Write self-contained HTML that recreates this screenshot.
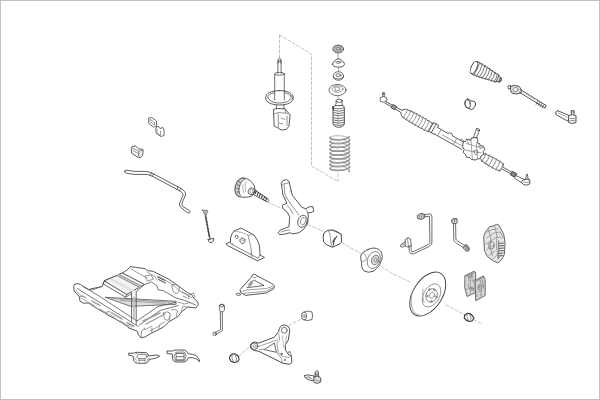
<!DOCTYPE html>
<html><head><meta charset="utf-8"><style>
html,body{margin:0;padding:0;background:#fff;}
body{width:600px;height:400px;overflow:hidden;font-family:"Liberation Sans",sans-serif;}
svg{display:block;}
</style></head><body>
<svg width="600" height="400" viewBox="0 0 600 400">
<rect x="0.5" y="0.5" width="599" height="399" fill="#fff" stroke="#c2c2c2" stroke-width="1"/>
<g fill="none" stroke="#4a4a4a" stroke-width="0.8" stroke-linejoin="round" stroke-linecap="round">

<!-- dashed guide lines -->
<g stroke="#9a9a9a" stroke-width="0.6" stroke-dasharray="3,2">
<path d="M279.5,35 L311.5,54 L311.5,166 L338,181.5 L338,173.5"/>
<path d="M279.5,35 L279.5,57.5"/>
<path d="M268,202.5 L282,208.5"/>
<path d="M308.3,224.7 L323,231.3"/>
<path d="M342,243 L361,253.5"/>
<path d="M381,266.5 L395,275 L410,282"/>
<path d="M446,305 L464.5,314.5"/>
<path d="M474,319.8 L482,324"/>
<path d="M289,325.5 L301.7,318.7"/>
<path d="M239,356 L249,347"/>
</g>

<!-- STRUT -->
<path d="M278,63 L278,59.5 Q279.5,56.8 281,59.5 L281,63" stroke="#444" stroke-width="0.9"/>
<path d="M278,60.5 L281,60.5 M278,62 L281,62" stroke="#666"/>
<path d="M277.9,62 L277.9,73 M281.1,62 L281.1,73"/>
<ellipse cx="279.5" cy="73.8" rx="4.8" ry="1.4"/>
<path d="M274.7,74 L274.7,92 M284.3,74 L284.3,92"/>
<path d="M279.5,90.6 C271,90.6 265.75,93.5 265.75,97.8 C265.75,102 271,105 279.5,105 C288,105 293.25,102 293.25,97.8 C293.25,93.5 288,90.6 279.5,90.6 Z" stroke="#444" stroke-width="0.9"/>
<path d="M268,97 C268,94.5 272,93 274.7,92.8 M284.3,92.8 C288,93.2 291,95 291.2,97.2 C291,100.5 286,103 279.5,103 C273,103 268.5,100.5 268,97.5"/>
<path d="M274.7,92.8 L274.7,100 M284.3,92.8 L284.3,100" />
<path d="M290,95 L293,97 L292,100" stroke="#777"/>
<path d="M276.4,105 L276.4,109 M283.9,105 L283.9,109"/>
<path d="M273.9,109.4 L276.4,108.5 L285.1,108.75 L290.1,115 L288.9,126.25 L286.4,129.4 L281.4,130 L278.25,128.1 L274.5,126.25 Z" stroke="#444" stroke-width="0.9"/>
<path d="M274,113.75 L279,112.5 L288,113.5 M278.25,114 L278.25,127 M287,116 L287,125.5 M281,118 L285,119.5 M279,123 L283,124" stroke="#777"/>
<path d="M285.1,108.75 L285.5,113" stroke="#777"/>
<!-- SPRING STACK -->
<ellipse cx="338.2" cy="49" rx="5.4" ry="3.9" fill="#c4c4c4"/>
<path d="M334,47 L336,48 M335.5,45.6 L337,47.3 M338.2,45.1 L338.2,47 M341,45.6 L339.5,47.3 M342.5,47 L340.5,48 M342.8,50 L340.5,49.8 M341,52 L339.5,50.7 M338.2,52.8 L338.2,51 M335.3,52 L336.8,50.7 M333.6,50 L336,49.8" stroke="#777" stroke-width="0.6"/>
<ellipse cx="338.2" cy="48.8" rx="2" ry="1.2" fill="#e8e8e8" stroke="#666"/>
<path d="M338,52.8 L338,58.5" stroke="#888"/>
<path d="M332.4,64.3 Q333,61.5 334.6,61 Q336,59 338.4,58.8 Q341,59 342.3,61 Q344,61.5 344.5,64.3 Q344,67 338.4,67.2 Q332.8,67 332.4,64.3 Z" stroke="#444" stroke-width="0.9"/>
<ellipse cx="338.4" cy="62.3" rx="2.3" ry="1" stroke="#555"/>
<path d="M334.8,61.2 Q338.4,63.8 342,61.2" stroke="#aaa"/>
<path d="M338.5,67.5 L338.5,71.8" stroke="#999"/>
<ellipse cx="338.4" cy="76" rx="5.2" ry="4.3"/>
<ellipse cx="338.4" cy="75.2" rx="2.6" ry="1.4"/>
<path d="M333.3,77 Q338.4,81.5 343.5,77"/>
<ellipse cx="337.5" cy="90" rx="8.5" ry="5.6"/>
<ellipse cx="337.5" cy="89" rx="5.5" ry="3.3" stroke="#888"/>
<path d="M335,87 L339,87 L340,90 L336,91 Z" stroke="#777"/>
<path d="M338,95.6 L338,98" stroke="#888"/>
<!-- bump stop -->
<path d="M336.1,100.8 L336.1,104 Q335,104.5 335.2,105.6 M342.1,100.8 L342.1,104 Q343,104.5 342.6,105.6"/>
<ellipse cx="339.1" cy="100.8" rx="3" ry="1.6"/>
<path d="M335.2,105.6 Q333,105.8 333,108 L333,123 Q333.5,127 338.7,127.3 Q344,127 344.4,123 L344.4,108 Q344.4,105.8 342.6,105.6 Z" stroke="#444" stroke-width="0.9"/>
<path stroke-width="0.9" d="M333.2,108 Q338.7,110 344.2,108 M333.2,110.3 Q338.7,112.3 344.2,110.3 M333.2,112.6 Q338.7,114.6 344.2,112.6 M333.2,114.9 Q338.7,116.9 344.2,114.9 M333.2,117.7 Q338.7,119.7 344.2,117.7 M333.2,120 Q338.7,122 344.2,120 M333.2,122.3 Q338.7,124.3 344.2,122.3 M333.5,124.6 Q338.7,126.3 344,124.6" stroke="#666"/>
<path d="M338,113 L338,124 M343.5,106.5 L345,109" stroke="#888"/>
<path d="M332.6,106.8 L333.5,109.5" stroke="#333" stroke-width="1.2"/>
<!-- spring -->
<path d="M330.13,137.54 L330.23,137.36 L330.38,137.18 L330.60,137.00 L330.88,136.83 L331.22,136.67 L331.61,136.52 L332.06,136.37 L332.55,136.24 L333.10,136.12 L333.68,136.02 L334.31,135.93 L334.98,135.85 L335.67,135.79 L336.39,135.75 L337.14,135.73 L337.90,135.72 L338.67,135.73 L339.45,135.76 L340.24,135.81 L341.02,135.88 L341.79,135.97 L342.55,136.08 L343.29,136.20 L344.01,136.34 L344.70,136.50 L345.36,136.68 L345.98,136.87 L346.57,137.08 L347.10,137.30 L347.60,137.53 L348.04,137.77 L348.42,138.02 L348.75,138.28 L349.03,138.55 L349.24,138.83 L349.39,139.11 L349.48,139.39 L349.50,139.67 M330.10,141.52 L330.15,141.33 L330.26,141.15 L330.43,140.97 L330.66,140.80 L330.95,140.63 L331.30,140.47 L331.70,140.32 L332.16,140.18 L332.67,140.05 L333.22,139.93 L333.82,139.83 L334.46,139.74 L335.13,139.67 L335.83,139.61 L336.56,139.58 L337.30,139.56 L338.07,139.55 L338.84,139.57 L339.63,139.61 L340.41,139.66 L341.19,139.73 L341.96,139.83 L342.71,139.94 L343.45,140.07 L344.16,140.21 L344.85,140.37 L345.50,140.55 L346.12,140.75 L346.69,140.96 L347.22,141.18 L347.70,141.41 L348.13,141.66 L348.50,141.91 L348.82,142.18 L349.08,142.45 L349.28,142.72 L349.41,143.00 L349.49,143.29 L349.50,143.57 M330.11,145.31 L330.17,145.13 L330.29,144.94 L330.47,144.76 L330.72,144.59 L331.02,144.43 L331.39,144.27 L331.80,144.12 L332.27,143.98 L332.79,143.85 L333.35,143.74 L333.96,143.64 L334.60,143.56 L335.28,143.49 L335.99,143.44 L336.72,143.40 L337.47,143.39 L338.24,143.39 L339.02,143.41 L339.80,143.45 L340.58,143.51 L341.36,143.59 L342.13,143.68 L342.88,143.80 L343.61,143.93 L344.32,144.08 L345.00,144.25 L345.64,144.43 L346.25,144.63 L346.81,144.84 L347.33,145.06 L347.80,145.30 L348.21,145.55 L348.58,145.81 L348.88,146.07 L349.13,146.34 L349.31,146.62 L349.43,146.90 L349.49,147.18 L349.49,147.47 M330.11,149.10 L330.19,148.92 L330.32,148.74 L330.52,148.56 L330.78,148.39 L331.10,148.22 L331.47,148.07 L331.90,147.92 L332.38,147.78 L332.91,147.66 L333.48,147.55 L334.10,147.45 L334.75,147.37 L335.44,147.31 L336.15,147.26 L336.89,147.23 L337.64,147.22 L338.41,147.23 L339.19,147.25 L339.97,147.29 L340.76,147.36 L341.53,147.44 L342.30,147.54 L343.04,147.66 L343.77,147.79 L344.47,147.95 L345.14,148.12 L345.78,148.31 L346.38,148.51 L346.93,148.72 L347.44,148.95 L347.90,149.19 L348.30,149.44 L348.65,149.70 L348.94,149.96 L349.17,150.24 L349.34,150.51 L349.45,150.80 L349.50,151.08 L349.48,151.36 M330.12,152.89 L330.21,152.71 L330.36,152.53 L330.57,152.35 L330.85,152.18 L331.18,152.02 L331.56,151.87 L332.00,151.72 L332.50,151.59 L333.03,151.47 L333.62,151.36 L334.24,151.27 L334.90,151.19 L335.59,151.13 L336.31,151.09 L337.05,151.06 L337.81,151.05 L338.58,151.06 L339.36,151.09 L340.15,151.14 L340.93,151.21 L341.70,151.29 L342.46,151.40 L343.21,151.52 L343.93,151.66 L344.62,151.82 L345.29,151.99 L345.92,152.18 L346.50,152.39 L347.05,152.60 L347.54,152.83 L347.99,153.08 L348.38,153.33 L348.72,153.59 L349.00,153.86 L349.22,154.13 L349.37,154.41 L349.47,154.69 L349.50,154.97 L349.47,155.26 M330.10,156.87 L330.14,156.69 L330.24,156.50 L330.40,156.32 L330.63,156.15 L330.92,155.98 L331.26,155.82 L331.66,155.67 L332.11,155.52 L332.61,155.39 L333.16,155.28 L333.75,155.17 L334.38,155.08 L335.05,155.01 L335.75,154.95 L336.47,154.91 L337.22,154.89 L337.98,154.89 L338.76,154.90 L339.54,154.93 L340.32,154.99 L341.10,155.06 L341.87,155.15 L342.63,155.26 L343.37,155.38 L344.09,155.53 L344.78,155.69 L345.43,155.87 L346.05,156.06 L346.63,156.27 L347.16,156.49 L347.65,156.72 L348.08,156.96 L348.46,157.22 L348.79,157.48 L349.05,157.75 L349.26,158.03 L349.40,158.31 L349.48,158.59 L349.50,158.87 M330.10,160.66 L330.16,160.48 L330.27,160.30 L330.45,160.12 L330.69,159.94 L330.99,159.78 L331.34,159.62 L331.75,159.47 L332.22,159.33 L332.73,159.20 L333.29,159.08 L333.89,158.98 L334.53,158.90 L335.20,158.83 L335.91,158.78 L336.64,158.74 L337.39,158.72 L338.15,158.72 L338.93,158.74 L339.71,158.78 L340.50,158.83 L341.27,158.91 L342.04,159.00 L342.80,159.12 L343.53,159.25 L344.24,159.40 L344.92,159.56 L345.57,159.74 L346.18,159.94 L346.75,160.15 L347.27,160.37 L347.75,160.61 L348.17,160.85 L348.54,161.11 L348.85,161.37 L349.10,161.64 L349.29,161.92 L349.42,162.20 L349.49,162.48 L349.49,162.77 M330.11,164.46 L330.18,164.27 L330.31,164.09 L330.50,163.91 L330.75,163.74 L331.06,163.57 L331.43,163.42 L331.85,163.27 L332.33,163.13 L332.85,163.01 L333.42,162.89 L334.03,162.80 L334.68,162.71 L335.36,162.65 L336.07,162.60 L336.80,162.57 L337.56,162.55 L338.33,162.56 L339.10,162.58 L339.89,162.62 L340.67,162.68 L341.45,162.76 L342.21,162.86 L342.96,162.98 L343.69,163.11 L344.40,163.26 L345.07,163.43 L345.71,163.62 L346.31,163.82 L346.87,164.03 L347.38,164.26 L347.85,164.49 L348.26,164.74 L348.61,165.00 L348.91,165.27 L349.15,165.54 L349.33,165.82 L349.44,166.10 L349.50,166.38 L349.49,166.66 M330.12,168.25 L330.20,168.06 L330.34,167.88 L330.55,167.71 L330.81,167.54 L331.14,167.37 L331.52,167.22 L331.95,167.07 L332.44,166.94 L332.97,166.81 L333.55,166.71 L334.17,166.61 L334.82,166.53 L335.51,166.47 L336.23,166.42 L336.97,166.40 L337.73,166.39 L338.50,166.39 L339.28,166.42 L340.06,166.47 L340.84,166.53 L341.62,166.62 L342.38,166.72 L343.13,166.84 L343.85,166.98 L344.55,167.13 L345.22,167.31 L345.85,167.49 L346.44,167.70 L346.99,167.91 L347.49,168.14 L347.94,168.38 L348.34,168.63 L348.68,168.89 L348.97,169.16 L349.20,169.43 L349.36,169.71 L349.46,169.99 L349.50,170.28 L349.48,170.56" stroke="#999" stroke-width="0.8"/>
<path d="M349.03,136.90 L348.75,137.17 L348.42,137.43 L348.04,137.68 L347.60,137.92 L347.10,138.15 L346.57,138.37 L345.98,138.58 L345.36,138.77 L344.70,138.95 L344.01,139.11 L343.29,139.25 L342.55,139.37 L341.79,139.48 L341.02,139.57 L340.24,139.64 L339.45,139.69 L338.67,139.72 L337.90,139.73 L337.14,139.72 L336.39,139.70 L335.67,139.66 L334.98,139.60 L334.31,139.52 L333.68,139.43 L333.10,139.33 L332.55,139.21 L332.06,139.08 L331.61,138.93 L331.22,138.78 L330.88,138.62 L330.60,138.45 L330.38,138.27 L330.23,138.09 L330.13,137.91 L330.10,137.72 L330.13,137.54 M349.50,139.67 L349.46,139.96 L349.36,140.24 L349.20,140.52 L348.97,140.79 L348.68,141.06 L348.34,141.32 L347.94,141.57 L347.49,141.81 L346.99,142.04 L346.44,142.25 L345.85,142.46 L345.22,142.64 L344.55,142.82 L343.85,142.97 L343.13,143.11 L342.38,143.23 L341.62,143.33 L340.84,143.42 L340.06,143.48 L339.28,143.53 L338.50,143.56 L337.73,143.56 L336.97,143.55 L336.23,143.53 L335.51,143.48 L334.82,143.42 L334.17,143.34 L333.55,143.24 L332.97,143.14 L332.44,143.01 L331.95,142.88 L331.52,142.73 L331.14,142.58 L330.81,142.41 L330.55,142.24 L330.34,142.07 L330.20,141.89 L330.12,141.70 L330.10,141.52 M349.50,143.57 L349.44,143.85 L349.33,144.13 L349.15,144.41 L348.91,144.68 L348.61,144.95 L348.26,145.21 L347.85,145.46 L347.38,145.69 L346.87,145.92 L346.31,146.13 L345.71,146.33 L345.07,146.52 L344.40,146.69 L343.69,146.84 L342.96,146.97 L342.21,147.09 L341.45,147.19 L340.67,147.27 L339.89,147.33 L339.10,147.37 L338.33,147.39 L337.56,147.40 L336.80,147.38 L336.07,147.35 L335.36,147.30 L334.68,147.24 L334.03,147.15 L333.42,147.06 L332.85,146.94 L332.33,146.82 L331.85,146.68 L331.43,146.53 L331.06,146.38 L330.75,146.21 L330.50,146.04 L330.31,145.86 L330.18,145.68 L330.11,145.49 L330.11,145.31 M349.49,147.47 L349.42,147.75 L349.29,148.03 L349.10,148.31 L348.85,148.58 L348.54,148.84 L348.17,149.10 L347.75,149.34 L347.27,149.58 L346.75,149.80 L346.18,150.01 L345.57,150.21 L344.92,150.39 L344.24,150.55 L343.53,150.70 L342.80,150.83 L342.04,150.95 L341.27,151.04 L340.50,151.12 L339.71,151.17 L338.93,151.21 L338.15,151.23 L337.39,151.23 L336.64,151.21 L335.91,151.17 L335.20,151.12 L334.53,151.05 L333.89,150.97 L333.29,150.87 L332.73,150.75 L332.22,150.62 L331.75,150.48 L331.34,150.33 L330.99,150.17 L330.69,150.01 L330.45,149.83 L330.27,149.65 L330.16,149.47 L330.10,149.29 L330.11,149.10 M349.48,151.36 L349.40,151.64 L349.26,151.92 L349.05,152.20 L348.79,152.47 L348.46,152.73 L348.08,152.99 L347.65,153.23 L347.16,153.46 L346.63,153.68 L346.05,153.89 L345.43,154.08 L344.78,154.26 L344.09,154.42 L343.37,154.57 L342.63,154.69 L341.87,154.80 L341.10,154.89 L340.32,154.96 L339.54,155.02 L338.76,155.05 L337.98,155.06 L337.22,155.06 L336.47,155.04 L335.75,155.00 L335.05,154.94 L334.38,154.87 L333.75,154.78 L333.16,154.67 L332.61,154.56 L332.11,154.43 L331.66,154.28 L331.26,154.13 L330.92,153.97 L330.63,153.80 L330.40,153.63 L330.24,153.45 L330.14,153.26 L330.10,153.08 L330.12,152.89 M349.47,155.26 L349.37,155.54 L349.22,155.82 L349.00,156.09 L348.72,156.36 L348.38,156.62 L347.99,156.87 L347.54,157.12 L347.05,157.35 L346.50,157.56 L345.92,157.77 L345.29,157.96 L344.62,158.13 L343.93,158.29 L343.21,158.43 L342.46,158.55 L341.70,158.66 L340.93,158.74 L340.15,158.81 L339.36,158.86 L338.58,158.89 L337.81,158.90 L337.05,158.89 L336.31,158.86 L335.59,158.82 L334.90,158.76 L334.24,158.68 L333.62,158.59 L333.03,158.48 L332.50,158.36 L332.00,158.23 L331.56,158.08 L331.18,157.93 L330.85,157.77 L330.57,157.60 L330.36,157.42 L330.21,157.24 L330.12,157.06 L330.10,156.87 M349.50,158.87 L349.45,159.15 L349.34,159.44 L349.17,159.71 L348.94,159.99 L348.65,160.25 L348.30,160.51 L347.90,160.76 L347.44,161.00 L346.93,161.23 L346.38,161.44 L345.78,161.64 L345.14,161.83 L344.47,162.00 L343.77,162.16 L343.04,162.29 L342.30,162.41 L341.53,162.51 L340.76,162.59 L339.97,162.66 L339.19,162.70 L338.41,162.72 L337.64,162.73 L336.89,162.72 L336.15,162.69 L335.44,162.64 L334.75,162.58 L334.10,162.50 L333.48,162.40 L332.91,162.29 L332.38,162.17 L331.90,162.03 L331.47,161.88 L331.10,161.73 L330.78,161.56 L330.52,161.39 L330.32,161.21 L330.19,161.03 L330.11,160.85 L330.10,160.66 M349.49,162.77 L349.43,163.05 L349.31,163.33 L349.13,163.61 L348.88,163.88 L348.58,164.14 L348.21,164.40 L347.80,164.65 L347.33,164.89 L346.81,165.11 L346.25,165.32 L345.64,165.52 L345.00,165.70 L344.32,165.87 L343.61,166.02 L342.88,166.15 L342.13,166.27 L341.36,166.36 L340.58,166.44 L339.80,166.50 L339.02,166.54 L338.24,166.56 L337.47,166.56 L336.72,166.55 L335.99,166.51 L335.28,166.46 L334.60,166.39 L333.96,166.31 L333.35,166.21 L332.79,166.10 L332.27,165.97 L331.80,165.83 L331.39,165.68 L331.02,165.52 L330.72,165.36 L330.47,165.19 L330.29,165.01 L330.17,164.82 L330.11,164.64 L330.11,164.46 M349.49,166.66 L349.41,166.95 L349.28,167.23 L349.08,167.50 L348.82,167.77 L348.50,168.04 L348.13,168.29 L347.70,168.54 L347.22,168.77 L346.69,168.99 L346.12,169.20 L345.50,169.40 L344.85,169.58 L344.16,169.74 L343.45,169.88 L342.71,170.01 L341.96,170.12 L341.19,170.22 L340.41,170.29 L339.63,170.34 L338.84,170.38 L338.07,170.40 L337.30,170.39 L336.56,170.37 L335.83,170.34 L335.13,170.28 L334.46,170.21 L333.82,170.12 L333.22,170.02 L332.67,169.90 L332.16,169.77 L331.70,169.63 L331.30,169.48 L330.95,169.32 L330.66,169.15 L330.43,168.98 L330.26,168.80 L330.15,168.62 L330.10,168.43 L330.12,168.25 M349.48,170.56 L349.39,170.84 L349.24,171.12 L349.03,171.40" stroke="#555" stroke-width="1.5"/>
<path d="M349.03,136.90 L348.75,137.17 L348.42,137.43 L348.04,137.68 L347.60,137.92 L347.10,138.15 L346.57,138.37 L345.98,138.58 L345.36,138.77 L344.70,138.95 L344.01,139.11 L343.29,139.25 L342.55,139.37 L341.79,139.48 L341.02,139.57 L340.24,139.64 L339.45,139.69 L338.67,139.72 L337.90,139.73 L337.14,139.72 L336.39,139.70 L335.67,139.66 L334.98,139.60 L334.31,139.52 L333.68,139.43 L333.10,139.33 L332.55,139.21 L332.06,139.08 L331.61,138.93 L331.22,138.78 L330.88,138.62 L330.60,138.45 L330.38,138.27 L330.23,138.09 L330.13,137.91 L330.10,137.72 L330.13,137.54 M349.50,139.67 L349.46,139.96 L349.36,140.24 L349.20,140.52 L348.97,140.79 L348.68,141.06 L348.34,141.32 L347.94,141.57 L347.49,141.81 L346.99,142.04 L346.44,142.25 L345.85,142.46 L345.22,142.64 L344.55,142.82 L343.85,142.97 L343.13,143.11 L342.38,143.23 L341.62,143.33 L340.84,143.42 L340.06,143.48 L339.28,143.53 L338.50,143.56 L337.73,143.56 L336.97,143.55 L336.23,143.53 L335.51,143.48 L334.82,143.42 L334.17,143.34 L333.55,143.24 L332.97,143.14 L332.44,143.01 L331.95,142.88 L331.52,142.73 L331.14,142.58 L330.81,142.41 L330.55,142.24 L330.34,142.07 L330.20,141.89 L330.12,141.70 L330.10,141.52 M349.50,143.57 L349.44,143.85 L349.33,144.13 L349.15,144.41 L348.91,144.68 L348.61,144.95 L348.26,145.21 L347.85,145.46 L347.38,145.69 L346.87,145.92 L346.31,146.13 L345.71,146.33 L345.07,146.52 L344.40,146.69 L343.69,146.84 L342.96,146.97 L342.21,147.09 L341.45,147.19 L340.67,147.27 L339.89,147.33 L339.10,147.37 L338.33,147.39 L337.56,147.40 L336.80,147.38 L336.07,147.35 L335.36,147.30 L334.68,147.24 L334.03,147.15 L333.42,147.06 L332.85,146.94 L332.33,146.82 L331.85,146.68 L331.43,146.53 L331.06,146.38 L330.75,146.21 L330.50,146.04 L330.31,145.86 L330.18,145.68 L330.11,145.49 L330.11,145.31 M349.49,147.47 L349.42,147.75 L349.29,148.03 L349.10,148.31 L348.85,148.58 L348.54,148.84 L348.17,149.10 L347.75,149.34 L347.27,149.58 L346.75,149.80 L346.18,150.01 L345.57,150.21 L344.92,150.39 L344.24,150.55 L343.53,150.70 L342.80,150.83 L342.04,150.95 L341.27,151.04 L340.50,151.12 L339.71,151.17 L338.93,151.21 L338.15,151.23 L337.39,151.23 L336.64,151.21 L335.91,151.17 L335.20,151.12 L334.53,151.05 L333.89,150.97 L333.29,150.87 L332.73,150.75 L332.22,150.62 L331.75,150.48 L331.34,150.33 L330.99,150.17 L330.69,150.01 L330.45,149.83 L330.27,149.65 L330.16,149.47 L330.10,149.29 L330.11,149.10 M349.48,151.36 L349.40,151.64 L349.26,151.92 L349.05,152.20 L348.79,152.47 L348.46,152.73 L348.08,152.99 L347.65,153.23 L347.16,153.46 L346.63,153.68 L346.05,153.89 L345.43,154.08 L344.78,154.26 L344.09,154.42 L343.37,154.57 L342.63,154.69 L341.87,154.80 L341.10,154.89 L340.32,154.96 L339.54,155.02 L338.76,155.05 L337.98,155.06 L337.22,155.06 L336.47,155.04 L335.75,155.00 L335.05,154.94 L334.38,154.87 L333.75,154.78 L333.16,154.67 L332.61,154.56 L332.11,154.43 L331.66,154.28 L331.26,154.13 L330.92,153.97 L330.63,153.80 L330.40,153.63 L330.24,153.45 L330.14,153.26 L330.10,153.08 L330.12,152.89 M349.47,155.26 L349.37,155.54 L349.22,155.82 L349.00,156.09 L348.72,156.36 L348.38,156.62 L347.99,156.87 L347.54,157.12 L347.05,157.35 L346.50,157.56 L345.92,157.77 L345.29,157.96 L344.62,158.13 L343.93,158.29 L343.21,158.43 L342.46,158.55 L341.70,158.66 L340.93,158.74 L340.15,158.81 L339.36,158.86 L338.58,158.89 L337.81,158.90 L337.05,158.89 L336.31,158.86 L335.59,158.82 L334.90,158.76 L334.24,158.68 L333.62,158.59 L333.03,158.48 L332.50,158.36 L332.00,158.23 L331.56,158.08 L331.18,157.93 L330.85,157.77 L330.57,157.60 L330.36,157.42 L330.21,157.24 L330.12,157.06 L330.10,156.87 M349.50,158.87 L349.45,159.15 L349.34,159.44 L349.17,159.71 L348.94,159.99 L348.65,160.25 L348.30,160.51 L347.90,160.76 L347.44,161.00 L346.93,161.23 L346.38,161.44 L345.78,161.64 L345.14,161.83 L344.47,162.00 L343.77,162.16 L343.04,162.29 L342.30,162.41 L341.53,162.51 L340.76,162.59 L339.97,162.66 L339.19,162.70 L338.41,162.72 L337.64,162.73 L336.89,162.72 L336.15,162.69 L335.44,162.64 L334.75,162.58 L334.10,162.50 L333.48,162.40 L332.91,162.29 L332.38,162.17 L331.90,162.03 L331.47,161.88 L331.10,161.73 L330.78,161.56 L330.52,161.39 L330.32,161.21 L330.19,161.03 L330.11,160.85 L330.10,160.66 M349.49,162.77 L349.43,163.05 L349.31,163.33 L349.13,163.61 L348.88,163.88 L348.58,164.14 L348.21,164.40 L347.80,164.65 L347.33,164.89 L346.81,165.11 L346.25,165.32 L345.64,165.52 L345.00,165.70 L344.32,165.87 L343.61,166.02 L342.88,166.15 L342.13,166.27 L341.36,166.36 L340.58,166.44 L339.80,166.50 L339.02,166.54 L338.24,166.56 L337.47,166.56 L336.72,166.55 L335.99,166.51 L335.28,166.46 L334.60,166.39 L333.96,166.31 L333.35,166.21 L332.79,166.10 L332.27,165.97 L331.80,165.83 L331.39,165.68 L331.02,165.52 L330.72,165.36 L330.47,165.19 L330.29,165.01 L330.17,164.82 L330.11,164.64 L330.11,164.46 M349.49,166.66 L349.41,166.95 L349.28,167.23 L349.08,167.50 L348.82,167.77 L348.50,168.04 L348.13,168.29 L347.70,168.54 L347.22,168.77 L346.69,168.99 L346.12,169.20 L345.50,169.40 L344.85,169.58 L344.16,169.74 L343.45,169.88 L342.71,170.01 L341.96,170.12 L341.19,170.22 L340.41,170.29 L339.63,170.34 L338.84,170.38 L338.07,170.40 L337.30,170.39 L336.56,170.37 L335.83,170.34 L335.13,170.28 L334.46,170.21 L333.82,170.12 L333.22,170.02 L332.67,169.90 L332.16,169.77 L331.70,169.63 L331.30,169.48 L330.95,169.32 L330.66,169.15 L330.43,168.98 L330.26,168.80 L330.15,168.62 L330.10,168.43 L330.12,168.25 M349.48,170.56 L349.39,170.84 L349.24,171.12 L349.03,171.40" stroke="#fff" stroke-width="0.55"/>
<path d="M338,142 L338,170" stroke="#bbb" stroke-width="0.6" stroke-dasharray="2,2"/>

<!-- STEERING RACK -->
<path d="M382.8,96.5 L382.8,92.5 L384.2,92.5 L384.2,96.5 M382,94 L385,94"/>
<path d="M380.5,97.5 Q383.5,95.5 386.5,97.5 L387,100.5 Q384,103.5 380.5,101.5 Z"/>
<g transform="translate(385.3,102.3) rotate(29.3)">
<path d="M0,-0.9 L8,-0.9 M0,0.9 L8,0.9"/>
<path d="M8,-1.9 L12,-1.9 L12,1.9 L8,1.9 Z" fill="#999"/>
<path d="M12,-1 L19,-1.3 M12,1 L19,1.3"/>
<path d="M19,-2.2 L21,-3.8 L23,-4.8 L24.5,-4.2 L26.5,-5.2 L28,-4.5 L30,-5.5 L31.5,-4.7 L33.5,-5.6 L35,-4.8 L37,-5.6 L38.5,-4.8 L40.5,-5.6 L42,-4.8 L44,-5.5 L45.5,-4.7 L47.5,-5.3 L49,-4.5 L51,-5 L52,-4.4"/>
<path d="M19,2.2 L21,3.8 L23,4.8 L24.5,4.2 L26.5,5.2 L28,4.5 L30,5.5 L31.5,4.7 L33.5,5.6 L35,4.8 L37,5.6 L38.5,4.8 L40.5,5.6 L42,4.8 L44,5.5 L45.5,4.7 L47.5,5.3 L49,4.5 L51,5 L52,4.4"/>
<path d="M23,-4.8 Q24,0 23,4.8 M26.5,-5.2 Q27.5,0 26.5,5.2 M30,-5.5 Q31,0 30,5.5 M33.5,-5.6 Q34.5,0 33.5,5.6 M37,-5.6 Q38,0 37,5.6 M40.5,-5.6 Q41.5,0 40.5,5.6 M44,-5.5 Q45,0 44,5.5 M47.5,-5.3 Q48.5,0 47.5,5.3 M51,-5 Q52,0 51,5" stroke="#8a8a8a"/>
<path d="M52,-4.4 L52,-6 L58,-6 L58,-3.6 M52,4.4 L52,4 L58,4 L58,3.6 M52,-4.4 L52,4.4 M55,-6 L55,4" />
<path d="M58,-3.6 L70,-3.6 L71,-5 L74,-5 L75,-3.6 L90,-3.6 M58,3.6 L90,3.6"/>
<path d="M62,-3.6 L62,3.6 M80,-3.6 L80,3.6 M84,-3.6 L84,-5 L87,-5 L87,-3.6 M66,0.5 L88,0.5" stroke="#888"/>
<path d="M111.5,-3 L113,-4.5 L115,-3.8 L117,-4.8 L119,-4 L121,-5 L123,-4.2 L125,-5 L127,-4.2 L129,-4.8 L131,-4 L133,-4.2 L134,-2.5"/>
<path d="M111.5,3 L113,4.5 L115,3.8 L117,4.8 L119,4 L121,5 L123,4.2 L125,5 L127,4.2 L129,4.8 L131,4 L133,4.2 L134,2.5"/>
<path d="M113,-4.5 Q114,0 113,4.5 M117,-4.8 Q118,0 117,4.8 M121,-5 Q122,0 121,5 M125,-5 Q126,0 125,5 M129,-4.8 Q130,0 129,4.8 M133,-4.2 Q134,0 133,4.2" stroke="#777"/>
<path d="M134,-1 L145,-1 M134,1 L145,1"/>
<path d="M145,-2 L149.5,-2 L149.5,2 L145,2 Z" fill="#888" stroke="#333"/>
</g>
<!-- valve housing -->
<path d="M463.5,141.8 L465.5,141.5 L466.5,139.3 L469.5,139.2 L470.5,141 L471.5,138 L476.8,137.3 L478,140.3 L476.8,142.8 L479.5,143.5 L480.5,145.8 L483.5,146.2 L484.8,149.5 L483,151.5 L484,154 L481,156 L480.5,158.5 L477,159 L476,160 L471.5,159.5 L469.8,157.6 L466.5,157.2 L465.5,154.5 L463.2,152.5 L464.2,149.5 L462.8,147 Z" fill="#fff" stroke="#444" stroke-width="0.9"/>
<path d="M466.5,143.5 L476,146.3 L483,148 M465.5,150 L472,151.5 L481.5,153 M471,141 L472.3,158.5 M476.5,144 L477.5,158.8 M467.5,140.3 L468.5,144 M479,145 L480.5,149" stroke="#888"/>
<path d="M474,151 Q476,149 478,151 Q478,154 476,155 Q474,154 474,151 Z" stroke="#777"/>
<!-- pinion -->
<path d="M473.3,138 L476.5,129 M476.3,138.3 L479.5,130"/>
<ellipse cx="478" cy="129.5" rx="1.8" ry="0.9" transform="rotate(25 478 129.5)"/>
<!-- right tie rod end -->
<path d="M515.3,175.3 L523.8,179.3 M514.5,178.3 L521.5,182.6" stroke="#444"/>
<path d="M523.5,179.8 Q526.5,178.3 529.8,179.8 L529.8,183.8 Q527,186 523.6,184.6 L521.5,182.6 Z" stroke="#444" stroke-width="0.9"/>
<path d="M523.8,182 Q526.8,183.2 529.6,181.8" stroke="#777"/>
<path d="M525.7,179.3 L526.6,174.2 L527.4,174.2 L528.2,179.2" stroke="#444"/>

<!-- UPPER RIGHT: boot -->
<g transform="translate(474,67.5) rotate(25.5)">
<ellipse cx="0" cy="0" rx="2.8" ry="6.6" stroke="#444" stroke-width="0.9"/>
<path d="M0,-6.6 L3,-6.9 L4.5,-6.2 L6,-6.8 L7.5,-6 L9,-6.5 L10.5,-5.7 L12,-6.1 L13.5,-5.3 L15,-5.6 L16.5,-4.8 L18,-5.1 L19.5,-4.4 L21,-4.6 L22.5,-4 L24,-4.1 L26,-3.6" stroke="#444" stroke-width="0.9"/>
<path d="M0,6.6 L3,6.9 L4.5,6.2 L6,6.8 L7.5,6 L9,6.5 L10.5,5.7 L12,6.1 L13.5,5.3 L15,5.6 L16.5,4.8 L18,5.1 L19.5,4.4 L21,4.6 L22.5,4 L24,4.1 L26,3.6" stroke="#444" stroke-width="0.9"/>
<path d="M3,-6.8 Q4.5,0 3,6.8 M6,-6.7 Q7.5,0 6,6.7 M9,-6.4 Q10.5,0 9,6.4 M12,-6 Q13.5,0 12,6 M15,-5.5 Q16.5,0 15,5.5 M18,-5 Q19.5,0 18,5 M21,-4.5 Q22.5,0 21,4.5 M24,-4.1 Q25.3,0 24,4.1" stroke="#666" stroke-width="0.8"/>
<path d="M26,-3.6 L26,3.6 M26,-2.5 L29,-2.5 L29,2.5 L26,2.5" stroke="#444"/>
<ellipse cx="29" cy="0" rx="1" ry="2.5" fill="#999"/>
</g>
<!-- inner tie rod -->
<path d="M508.2,86 L510.5,85.2 L511.2,88 L508.8,88.8 Z" stroke="#444"/>
<path d="M510.5,86.5 Q514,84.3 519,86.3 Q522.3,89 521.2,92.6 Q517,95.2 512,93.2 Q509.5,90 510.5,86.5 Z" fill="#e0e0e0" stroke="#444" stroke-width="0.9"/>
<ellipse cx="515.6" cy="89.6" rx="2.6" ry="2.1" fill="#f4f4f4" stroke="#777"/>
<path d="M520.8,89.8 L546,105.4 M519.8,92.6 L545,108 M546,105.4 L545,108" stroke="#444" stroke-width="0.9"/>
<path d="M537.5,101.5 L536.2,104.3 M539.5,102.7 L538.2,105.5 M541.5,103.9 L540.2,106.7 M543.5,105.1 L542.2,107.9" stroke="#444"/>
<path d="M523,92 L535,99.5" stroke="#aaa"/>
<!-- outer tie rod end -->
<path d="M557.5,110.6 Q554.8,111.5 555.8,114.5 L567.5,121 L569,119.2 M557.5,110.6 L569,115.5" stroke="#444" stroke-width="0.9"/>
<path d="M558,113 L567,117" stroke="#999"/>
<path d="M568.8,115.5 Q572.5,113.5 576,115.5 L576,122.5 Q572.5,124.8 568.8,122.5 Z" fill="#f0f0f0" stroke="#444" stroke-width="0.9"/>
<path d="M571.4,114.5 L571.4,110.5 L574,110.5 L574,114.5 M571,112 L574.4,112" stroke="#444"/>
<path d="M570,118.5 L575,118.5 M570,120.5 L575,120.5" stroke="#888"/>
<!-- LEFT: brackets -->
<path d="M149,118 L152,117.5 L156.5,121 L156.5,126.5 L153.5,127 L149,123.5 Z"/>
<path d="M150.5,119.5 L154.5,122.5 L154.5,125 L150.5,122 Z" stroke="#888"/>
<path d="M156,128 L158,126 L160,128.5 L163,127.5 L164,130 L164,135.5 L161,136.5 L156.5,133.5 Z"/>
<path d="M157,129 L157,133 L160.5,135.5 L160.5,131" stroke="#888"/>
<!-- bushing -->
<path d="M132.7,146.3 L135.4,146 L136.8,147.1 L138.7,148.8 L142.6,149.3 L143.1,151 L142.6,155.4 L140.4,157.6 L137.6,157 L131.6,153.2 L131.3,148.8 Z" stroke="#444" stroke-width="0.9"/>
<path d="M132.5,148 L138.7,151.2 L142.8,150.3 M138.7,151.2 L138.4,155.5 M133,150.5 L137.8,153.2" stroke="#777"/>
<path d="M139.8,152 L139.8,156.5" stroke="#999"/>
<!-- stabilizer bar -->
<path d="M124.6,171.2 Q125,169.6 127,170.3 Q134,171.8 142,171.4 Q148,170.8 153,173.6 L180.5,188.2 Q186.2,191.2 185.6,195 L182,203 Q181.5,205 183,206.5 L189.3,210.6 Q190.8,212.2 189.4,212.8 Q188.2,213.2 187.2,212.4 L180.5,207.2 Q178.6,205.2 179.8,202.5 L183,195.6 Q183.5,193 180,191 L152.5,176.3 Q148,173.8 142,174.4 Q134,175 127,173.3 Q124.4,172.8 124.6,171.2 Z" stroke="#444" stroke-width="0.85"/>
<path d="M151.3,172.6 L150.3,175.6 M153.6,173.8 L152.4,176.6 M178.3,186.7 L177,189.6 M180.8,188.2 L179.3,190.9" stroke="#555"/>
<!-- link -->
<path d="M202.5,209.8 L204.5,210.5 L206.3,210.2 L208,211 L206.8,213.5 L205.8,215.7 L204.2,213.5 Z" stroke="#555"/>
<path d="M204.5,210.5 L205.3,214.5 M206.3,210.2 L205.5,214.5" stroke="#777"/>
<path d="M205.4,215.5 L209.8,238.6" stroke="#777" stroke-width="1.6"/>
<path d="M205.6,217 L206.6,219 M206.2,220.5 L207.2,222.5 M206.8,224 L207.8,226 M207.4,227.5 L208.4,229.5 M208,231 L209,233 M208.6,234.5 L209.6,236.5" stroke="#222" stroke-width="0.9"/>
<path d="M208.2,239.6 L213.8,238.3 Q214.2,241.8 211.2,242.8 Q208.6,242.8 208.2,239.6 Z" stroke="#444" stroke-width="0.9"/>
<!-- CV JOINT -->
<path d="M243.5,177.9 A5.8,9.6 15 0 0 238.5,196.5 L240.63,195.4 A3.6,8.4 15 0 1 244.97,179.2 Z" fill="#cacaca" stroke="none"/>
<path d="M243.5,177.9 A5.8,9.6 15 0 0 238.5,196.5" stroke="#444" stroke-width="1"/>
<path d="M244.97,179.2 A3.6,8.4 15 0 0 240.63,195.4" stroke="#555" stroke-width="0.8"/>
<path d="M237.5,185 L239.8,185.8 M237,188.5 L239.4,189 M237.3,192 L239.6,192 M238.5,181.5 L240.7,182.7" stroke="#555" stroke-width="0.8"/>
<path d="M243.5,177.9 Q250.5,178.5 254.5,186 Q256.5,191.5 252.5,195.5 Q248,198.5 238.5,196.5" stroke="#444" stroke-width="0.9"/>
<path d="M246,181.5 Q244.5,186 245.5,191.5 M243,184 Q242,188 243.5,193" stroke="#aaa"/>
<ellipse cx="251.4" cy="191.3" rx="3.1" ry="3.5" transform="rotate(20 251.4 191.3)"/>
<ellipse cx="251.6" cy="191.3" rx="1.6" ry="1.9" stroke="#888"/>
<path d="M254,189.4 L267.8,198.8 Q269.6,200.6 267.3,202 L253,194.4" stroke="#444" stroke-width="0.9"/>
<path d="M256.3,191 L255.1,193.8 M258.4,192.4 L257.2,195.2 M260.5,193.8 L259.3,196.6 M262.6,195.2 L261.4,198 M264.7,196.6 L263.5,199.4 M266.6,198 L265.6,200.6" stroke="#333" stroke-width="1.1"/>
<!-- KNUCKLE -->
<path d="M281.4,183 L283,180.5 L286.5,179.6 L289,181.4 L291,190 L292.3,195.3 L297.7,202 L301.7,207.3 L305.7,208.7 L309.7,206.7 L313,206.7 L313.7,211.3 L311,212.7 L307.7,212.7 L308.3,216 L307.7,223.3 L304.3,228.7 L299,232.7 L292.3,234 L290.3,232.7 L285,234 L279.7,234.7 L278.3,232.7 L280.3,230 L285.7,228 L289,226.7 L289.7,216.7 L287,212 L283,208.7 L282.3,205.3 L285,204 L287,203.3 L283,195.3 L282.3,190 Z" fill="#fff" stroke="#444" stroke-width="0.9"/>
<path d="M281.6,184.5 L289.3,182.8 M284,185 L285,195 L290,203 L296,211 L299,215 M287.2,205.5 L290,208.5 L293,214 M305.7,208.7 L307,211 L307.7,212.7 M281,232 L286,230.5 L289.5,230" stroke="#777"/>
<path d="M291,190 L289.5,192 M284.5,199 L286.5,198" stroke="#999"/>
<ellipse cx="302.5" cy="221.3" rx="4.6" ry="6.2" transform="rotate(20 302.5 221.3)"/>
<ellipse cx="303.2" cy="221" rx="2.6" ry="3.8" transform="rotate(20 303.2 221)" stroke="#888"/>
<!-- SUBFRAME MOUNT -->
<path d="M226.5,243.5 L230.5,242 L230.5,238 Q232,233 234,231 L241,228 L254,235 Q258,240 259.5,246 L260,255 L264.5,257.5 L257.5,260.8 L228,245.8 Z" stroke="#444" stroke-width="0.9"/>
<path d="M230.5,242 L230.8,243.8 L258,258.3 L260,255" stroke="#666"/>
<path d="M248,235 Q251,245 252,256.5" stroke="#777"/>
<path d="M234,231 Q243,232 248,235 L254,235" stroke="#999"/>
<ellipse cx="236.6" cy="236.8" rx="1.4" ry="1.8" transform="rotate(-25 236.6 236.8)" stroke="#666"/>
<ellipse cx="242.5" cy="240.7" rx="2.6" ry="2.8" transform="rotate(-25 242.5 240.7)" stroke="#555"/>
<path d="M241.5,239.8 Q243,239.2 243.8,241" stroke="#777"/>
<path d="M232.5,243.5 L232.8,244.8 M250.8,253.5 L251,254.5" stroke="#777"/>
<!-- BUSHING center -->
<path d="M323.6,234.2 Q325,231 328.1,230.3 L332.5,230 Q338,231.5 341.2,234.4 L341.6,241.9 L340,243.8 L332.5,247.2 Q326,245.5 323.7,241.9 Q322.6,238 323.6,234.2 Z" stroke="#404040" stroke-width="0.95"/>
<path d="M328.1,230.3 Q330.5,233 330.5,238.5 Q330.3,243.5 332.5,247.2" stroke="#777"/>
<path d="M336.8,236.3 L334,240.6 L333.4,245 M335.2,238.1 L332.7,241.8" stroke="#444" stroke-width="1.1"/>
<path d="M332.5,230 L341.2,234.4" stroke="#555"/>
<!-- HUB -->
<path d="M368,249.5 Q374,246.5 379,249.5 Q383,253 382,259 Q380.5,266 374,271 Q368,273.5 364,271 Q361,268 361.5,262.5 Q360,258 361,255 Q362.5,251.5 368,249.5 Z" stroke="#444" stroke-width="0.9"/>
<path d="M363,252.5 Q366.5,254.5 366.5,258.5 Q366,261.5 362,262" stroke="#888"/>
<ellipse cx="373.8" cy="260" rx="6.2" ry="8.8" transform="rotate(22 373.8 260)" stroke="#777"/>
<ellipse cx="375.2" cy="260" rx="3.5" ry="5" transform="rotate(22 375.2 260)" fill="#e0e0e0" stroke="#666"/>
<ellipse cx="375.5" cy="260" rx="1.5" ry="2.2" transform="rotate(22 375.5 260)" stroke="#888"/>
<!-- BRAKE HOSE 1 -->
<path d="M417.5,215.5 L421,213.3 L424.6,214.2 L424.8,217.5 L421.5,219.5 L418,218.6 Z" fill="#ddd" stroke="#444"/>
<path d="M419,214.5 L419.5,218.8 M421,213.6 L421.5,219.2 M423,214 L423.3,218.6" stroke="#777"/>
<path d="M424.7,214.8 L429.8,213.9 Q431.9,214.2 431.9,216.5 L431.9,243 Q431.5,245.5 428.5,246.8 L413.5,253.9 Q410,254.5 409.3,251.5 L408.9,245.5"/>
<path d="M424.7,216.8 L429.4,216.2 L429.9,242.5 Q429.6,244 427.5,245 L413,251.8 Q411.4,252 411.2,250.5 L411,245.5"/>
<path d="M405.5,239.5 L408,237.5 L410.5,239 L411.3,245.6 L408.5,247.2 L405.5,246 Z" stroke="#444"/>
<path d="M405.5,241.5 L401,244.5 L400.5,246.5 L402.5,247.2 L405.5,245.5" stroke="#444"/>
<path d="M407.5,238.5 L408.5,246.5 M402,245 L404.5,244" stroke="#777"/>
<!-- BRAKE HOSE 2 -->
<path d="M452,219.5 L454,218.3 L456.8,218.6 L457.3,222.8 L455,223.8 L452.3,223.2 Z" fill="#e4e4e4" stroke="#444"/>
<path d="M452,220.3 L457,219.7 M454.3,218.5 L454.6,223.6" stroke="#777"/>
<path d="M453.5,223.6 L453.8,240 Q454,241.5 455.5,242.5 L463.2,247.5 M455.6,223.8 L455.9,239 Q456.1,240 457.3,240.8 L464.5,245.3"/>
<path d="M463.2,247.5 L464.5,245.3 L466.5,244.6 L469.4,248.2 L468.8,250.8 L466.6,251.2 Z" fill="#b8b8b8" stroke="#444"/>
<path d="M465.2,246 L467.4,249.8 M466.6,245.2 L468.8,248.8" stroke="#666"/>
<!-- CALIPER -->
<path d="M485.6,231.75 L489.4,226.75 L494,225.8 L496.5,224.3 L498.8,225 L500,227.4 L503.75,234.25 L505,243 L504.4,254.25 L501.9,259.25 L498.1,263 L493.75,261.1 L487.5,256.75 L484.4,250.5 L483.75,236.75 Z" fill="#e6e6e6" stroke="#4a4a4a" stroke-width="0.85"/>
<path d="M487,232 L492,229.5 L498,229 M486.5,238 L494,233 L500,232 M486,244 L497,237 L502,238 M486.5,250 L494,245 M489,255 L495,251 M493,259 L498,254" stroke="#9a9a9a" stroke-width="0.9"/>
<path d="M488.5,229.5 L491,239 L490,247 L492.5,256 M495,227 L497,236 L496.5,246 L498,259" stroke="#888"/>
<path d="M499,243.5 L503.5,243 M499,246 L503.5,245.5 M499,248.5 L503.5,248 M499,251 L503.5,250.5 M499,253.5 L503,253 M499,256 L502.5,255.5" stroke="#555" stroke-width="0.9"/>
<path d="M498.5,241 L498.8,258.5" stroke="#666"/>
<ellipse cx="491.5" cy="245.5" rx="2.8" ry="3.8" transform="rotate(15 491.5 245.5)" stroke="#777"/>
<path d="M500,232 L503,237" stroke="#777"/>
<!-- BRAKE PADS -->
<path d="M465.2,275.5 L474.3,271.2 L475.7,272.7 L475.2,292.7 L467.1,296.5 L464.8,288 Z" fill="#d6d6d6" stroke="#555" stroke-width="0.85"/>
<path d="M475.2,280.3 L483.3,276 L485.2,279.3 L485.2,295.5 L475.7,300.8 L475.4,290 Z" fill="#d6d6d6" stroke="#555" stroke-width="0.85"/>
<path d="M468.3,283.6 l-0.2,2.0 M471.2,274.9 l-0.6,2.4 M468.4,278.8 l0.6,1.9 M472.8,280.5 l0.2,1.4 M471.3,287.2 l0.0,2.2 M471.5,274.8 l0.3,2.0 M468.8,275.5 l0.4,1.9 M471.9,287.1 l0.3,2.5 M469.5,287.0 l-0.1,2.5 M473.1,274.6 l-0.4,1.5 M473.7,279.5 l0.2,1.6 M470.3,280.3 l-0.2,2.0 M470.9,288.0 l0.2,2.5 M472.9,288.4 l0.2,1.4 M473.0,287.9 l0.5,2.0 M471.9,276.9 l0.4,2.0 M468.6,276.0 l0.4,2.6 M467.2,288.1 l-0.1,1.4 M468.7,286.9 l0.4,1.3 M471.1,274.7 l0.3,1.7 M473.1,288.1 l0.0,2.6 M468.8,276.2 l0.1,1.2 M478.2,287.5 l0.1,1.4 M477.1,294.5 l-0.2,2.5 M483.3,284.5 l-0.0,1.9 M481.4,288.5 l0.1,2.1 M483.6,286.2 l-0.1,2.2 M478.5,285.8 l0.6,1.9 M480.7,280.6 l-0.1,2.0 M476.9,291.0 l0.2,1.3 M481.3,286.7 l0.2,1.7 M481.9,290.3 l-0.6,1.3 M481.7,293.6 l-0.3,1.8 M481.1,284.8 l-0.2,1.6 M479.5,289.5 l-0.2,1.7 M482.4,279.9 l0.1,2.2 M479.0,284.5 l0.4,1.5 M478.1,287.9 l0.2,1.3 M479.1,286.0 l0.4,1.8 M483.0,281.7 l-0.2,2.1 M483.2,285.6 l-0.3,1.4 M480.6,283.2 l0.4,2.4 M478.1,285.7 l0.4,2.1 M482.6,284.4 l-0.4,1.6" stroke="#8c8c8c" stroke-width="0.8"/>
<path d="M466,276.5 L474.5,272.5 M476,281.3 L484,277.2" stroke="#777"/>
<path d="M470.5,274 L470.5,294 M480.3,279 L480.3,298" stroke="#a0a0a0"/>
<!-- BRAKE DISC -->
<ellipse cx="427.75" cy="294.1" rx="14.5" ry="24.4" transform="rotate(33 427.75 294.1)" stroke="#444" stroke-width="0.95"/>
<path d="M412.5,291 Q409,303 413.5,311.5 Q416,315 420,315.5" stroke="#888"/>
<ellipse cx="431.5" cy="295.4" rx="8" ry="12.6" transform="rotate(30 431.5 295.4)" stroke="#888"/>
<ellipse cx="431.6" cy="295.4" rx="5.5" ry="7" transform="rotate(25 431.6 295.4)" stroke="#777"/>
<ellipse cx="432" cy="295.2" rx="2.4" ry="3.2" transform="rotate(25 432 295.2)" stroke="#888"/>
<circle cx="434.3" cy="290" r="0.8" stroke="#777"/><circle cx="436" cy="296.5" r="0.8" stroke="#777"/><circle cx="431.5" cy="301.3" r="0.8" stroke="#777"/><circle cx="427.2" cy="296" r="0.8" stroke="#777"/><circle cx="429.5" cy="289.5" r="0.8" stroke="#777"/>
<path d="M423,289 Q421.5,296 424,302" stroke="#999"/>
<!-- small nut -->
<path d="M464.6,315.2 L467.6,313.2 L469.8,313.5 L472.6,316 L474,318.2 L472,321 L469.3,321.5 L466.5,320.4 L464.3,318.2 Z" stroke="#333" stroke-width="1.15"/>
<path d="M467.6,313.5 L466.8,316 L468.5,320.8 M469.5,314.5 L471,317.5 L470.5,321" stroke="#777"/>
<!-- SUBFRAME -->
<path d="M73.8,286 L75,284 L77.9,283.6 L80.5,284.5 L83.2,286.5 L88.4,289.5 L102,286.5 L104.5,280.75 L122.5,273 L127,270 L130.3,266.7 L135.7,267.3 L145,268.7 L147.7,270.7 L153,271.3 L157,273.3 L169,279.3 L175.7,284 L181,288 L187.7,292.7 L191.7,294.7 L193.7,298 L197.7,302 L198.3,304.7 L195.7,308 L187.7,307 L181,312.3 L178.3,316.3 L169,321.7 L163.7,327 L158.3,329.7 L151.7,333 L145,337 L141,337.7 L138.3,335 L137.5,331.25 L128.75,328.1 L127.5,326.25 L116.25,319.4 L107.5,315 L106.25,313.75 L96.25,308.1 L88.75,303.1 L83.1,303.1 L80,301.25 L79.4,296.9 L74.4,291.25 Z" stroke="#444" stroke-width="0.9"/>
<!-- horizontal tapered bar -->
<path d="M105.5,297.3 L176,301.3 L176,304.3 L131,306.3 Z" fill="#dedede" stroke="#555"/>
<path d="M112,298.5 L170,302.2 M120,300.5 L165,303.3" stroke="#999" stroke-width="0.9"/>
<!-- post -->
<path d="M131.6,292.5 L131.6,321.5 M136.2,291.8 L136.2,324.5" stroke="#444"/>
<path d="M133.9,297 L133.9,318" stroke="#bbb" stroke-width="1.6"/>
<!-- panel -->
<path d="M104.5,280.75 L122.5,273 L144.5,284.5 L127,294.25 Z" fill="#f3f3f3" stroke="#444" stroke-width="0.9"/>
<path d="M104.5,280.75 L103,283.8 L125.6,297.2 L127,294.25" stroke="#444"/>
<path d="M118.3,275.3 L140.3,286.8" stroke="#d0d0d0" stroke-width="2.2"/>
<path d="M119.3,274.6 L141.3,286.1 M116.9,275.6 L138.9,287.1" stroke="#7a7a7a" stroke-width="0.8"/>
<path d="M112,279.5 L133,291" stroke="#e0e0e0" stroke-width="2"/>
<path d="M125.6,297.2 L131.6,293.8 M136.2,291.8 L144.5,284.5" stroke="#555"/>
<!-- left rail -->
<path d="M83.2,286.5 L88.4,289.5 L99,296 L137,321 M77.5,288.5 L90,296.5 L112,310 L138.3,326.5" stroke="#555"/>
<path d="M92,301 L100,305.5 M112,313 L122,319 M127,322.5 L134,326.5" stroke="#aaa" stroke-width="1.5"/>
<path d="M88.4,289.5 L92,290 L102,286.5" stroke="#666"/>
<!-- front member -->
<path d="M137,321 L158,306.5 L176,302.2 M139.5,325 L160,310.5 L178.3,305.5" stroke="#555"/>
<path d="M143,321 L160,313 M146,324 L165,314" stroke="#9a9a9a" stroke-width="1.4"/>
<path d="M163.5,313 Q167,310.5 170,313 Q171,318 167,320.5 Q163.5,319.5 163.5,313 Z" stroke="#777"/>
<path d="M171.5,310 Q175,308 177.5,311 L176.5,316" stroke="#777"/>
<path d="M141,337.7 L141.5,331 L145,328 M151.7,333 L152,328" stroke="#777"/>
<!-- extra detail -->
<path d="M75.5,290 L79,294 L84,297 M81,298 L95,306 M100,309 L115,317.5 M120,320.5 L132,328" stroke="#999" stroke-width="0.8"/>
<path d="M79.5,296.9 L83,296 L86,298 M106.25,313.75 L108,311 L111,312.5 M127.5,326.25 L130,324 L133,326" stroke="#777"/>
<path d="M144,330 L152,326 M150,331 L160,325.5 M158.3,329.7 L160,324 L165,322 M169,321.7 L170,316" stroke="#888"/>
<path d="M181,312.3 L183,306 L187.7,307 M178,302 L185,304 L190,302.5" stroke="#888"/>
<!-- right rail -->
<path d="M144.5,284.5 L151.7,282 L157,286 L158.3,290 L163.7,290.7 L169,294 L176,298 L185,300.5 L195.7,305" stroke="#555"/>
<path d="M131,269 L147,278 M147,272 L155,276.5 L157,280 M158,276 L172,284 L180,291 L192,298" stroke="#888"/>
<path d="M145,276 L151,275 L153.5,279 L148,281 Z" stroke="#777"/>
<path d="M157.5,277 L165,280.5 M158.5,279.5 L165.5,283" stroke="#666" stroke-width="1.1"/>
<path d="M172,285 Q176,283 179,287 Q180,292 176,294 Q172,292 172,285 Z" stroke="#777"/>
<path d="M182,292 L188,295 L189,299 M183,296 L187,298" stroke="#777"/>
<path d="M189,295 L193.5,293 L195,297" stroke="#777"/>
<!-- TRIANGLE BRACKET -->
<path d="M251.3,276.9 Q252,274 254.5,274.2 Q256.5,274.5 257,275.8 L271.7,283.5 Q274.6,285 274.4,286.5 L274,288.5 L266.3,293 L245.5,295.4 L240.5,292.3 L240.2,290 Z" stroke="#444" stroke-width="0.9"/>
<path d="M254,280.2 L264,285.4 L247.5,287.7 Z"/>
<path d="M251.5,281.5 L249,284.5 M252.3,283 L250,286" stroke="#999" stroke-width="1.3"/>
<path d="M242,291.5 L246.5,290 L266.5,288.5 L272.5,286.5 M244,293.3 L266,291.3 L273.5,287.5" stroke="#888"/>
<path d="M257,275.8 L255,278 L253,276.9" stroke="#888"/>
<path d="M236.3,294 L239,293 L241,294.5 L238,295.5 Z"/>
<!-- BOLT -->
<path d="M219.5,306 Q220,304 222,304.2 Q224.5,304.8 224.5,307 L224.3,310.5 Q223,312.3 221,311.8 Q219.3,311 219.4,309 Z"/>
<ellipse cx="221.8" cy="305.6" rx="2.2" ry="1.3"/>
<path d="M220.3,312 L220.6,329.5 L214.5,333 M222.3,312 L222.5,330.5 L215.5,335"/>
<ellipse cx="214.6" cy="333.8" rx="1.6" ry="1.8"/>
<!-- BUSHING small -->
<path d="M304,312 Q308,310 312,312 Q313,316 312,319.5 Q308,321.5 304,319.8"/>
<ellipse cx="304" cy="316" rx="2.4" ry="4" />
<ellipse cx="304" cy="316" rx="1" ry="1.8" stroke="#888"/>
<!-- LOWER CONTROL ARM -->
<path d="M278.8,331 Q279.2,325.3 284.3,325 Q289.6,325.3 289.7,331 L288.3,340 L285.3,345 L285.4,350 L288.8,355 L291.3,356.3 L291.9,362.5 L289.4,364.4 L282.5,363 L258.8,351.3 Q253.5,351 251,348.5 Q249.5,344.5 252.5,342.6 Q255.5,341.2 258.3,343.2 L273.8,337.5 Z" stroke="#444" stroke-width="0.95"/>
<ellipse cx="254.4" cy="346.2" rx="3.5" ry="3.3" stroke="#444"/>
<ellipse cx="254.6" cy="346.2" rx="1.5" ry="1.4" stroke="#888"/>
<ellipse cx="284.3" cy="330.3" rx="2.9" ry="3" stroke="#555"/>
<path d="M264.4,349.4 L274.4,343 L276.25,351.9 Z" stroke="#444"/>
<path d="M258.5,346.5 L277.5,339.8 M278.8,334 L279.8,340 L276.8,342.5 L278.3,352.8 L282.5,356.5 L289,357.5 M259.5,349.5 L264.4,349.4 M276.25,351.9 L281.5,358.5 L282.5,363" stroke="#888"/>
<path d="M282.5,336 L283.8,348 M286.5,336 L285.3,345" stroke="#aaa"/>
<path d="M288.3,353 L289.6,351 L291.6,356.3" stroke="#555"/>
<circle cx="281.5" cy="354" r="0.8" stroke="#555"/>
<circle cx="285" cy="360" r="0.7" stroke="#777"/>
<!-- NUTS -->
<path d="M129,353.2 L133.5,353.2 Q135,352.2 137.7,352.3 L146.3,352.7 Q148.3,353.5 148.3,355.3 L148.3,356 L156.3,355 L159.7,356.3 L156.3,358 L151.7,359 L149,359.5 L149,360.7 Q147.5,363.3 145,363.3 L138.3,363.3 Q134.5,363 133.7,360.7 L133.2,356.3 Q131.5,355.5 129.2,355.3 Z" stroke="#444" stroke-width="0.9"/>
<ellipse cx="142" cy="356.5" rx="5" ry="2.3" stroke="#555"/>
<path d="M139,358.7 L139,362 M145,358.7 L145,362 M139,360.3 L145,360.3" stroke="#777"/>
<path d="M135.5,354 L137.5,353.5 M146.5,354 L148,355.5 M134.5,358 L136.5,360.5 M149,358 L147,361" stroke="#888"/>
<path d="M167.3,351 L172.5,351 Q174,350 176,350 L184.5,350 Q187,350.5 188,353.7 L192.3,354.3 Q196.3,355 198,357.5 Q199.5,360 199.7,362 Q198,359.7 196.5,359 L192.3,357.7 L188.3,357.7 Q187.5,361.5 184,362 L176,362 Q172.8,361.5 172.5,358.5 L172.3,354 L167.5,353.7 Z" stroke="#444" stroke-width="0.9"/>
<path d="M174,356.3 L176,352.2 L184.3,352 L186.3,356.3 L184.3,360.7 L176,360.7 Z" stroke="#666"/>
<path d="M176.5,353.5 L184,353.5 L184,359.8 L176.5,359.8 Z M176.5,356.6 L184,356.6" stroke="#555"/>
<path d="M230,356 L232.5,353.8 L235.5,354 L238.5,356.5 L239,359.5 L237.5,361.8 L234,362.5 L231,361.2 L229.5,358.5 Z" stroke="#333" stroke-width="1.1"/>
<path d="M232.5,354.2 L231.8,357.5 L233.5,362 M235,355 L236.5,358 L236,362" stroke="#777"/>
<!-- BALL JOINT -->
<path d="M304.4,375.8 Q306,374.8 309,375 L314,376 L314.2,380.8 Q310,380.8 307,379 Q304.5,377.5 304.4,375.8 Z" stroke="#444" stroke-width="0.9"/>
<path d="M306,377 Q309,377.5 312,379 M308.5,376.5 L311,378" stroke="#888"/>
<path d="M313.8,377.5 Q314.5,376 317.3,376 Q320.5,376.5 320.8,378.5 L320.6,382 Q318,384 315,383 Q313.6,382 313.8,380 Z" fill="#e2e2e2" stroke="#444" stroke-width="0.9"/>
<path d="M315,377.5 L315.3,371.5 Q316.7,369.8 318.2,371.3 L318.5,377" stroke="#444"/>
<path d="M315,373 L318.4,373 M315,374.5 L318.4,374.5 M315,376 L318.4,376" stroke="#666"/>
<path d="M315.5,380 L319.5,381" stroke="#888"/>
<!-- small bushing (rack) -->
<path d="M467.3,99.1 Q469.5,99 470.6,100.8 L473.4,101.3 Q475.8,102 475.6,104 L475,106.3 Q473.5,109 471.7,109.6 L469,108.5 Q465.5,107.5 464.8,104.5 Q464.3,100.5 467.3,99.1 Z" stroke="#404040" stroke-width="1"/>
<ellipse cx="467.6" cy="104" rx="2.6" ry="4.4" transform="rotate(-10 467.6 104)" stroke="#555"/>
<path d="M470.6,100.8 Q471.5,104 469,108.5" stroke="#888"/>
</g>
</svg>
</body></html>
